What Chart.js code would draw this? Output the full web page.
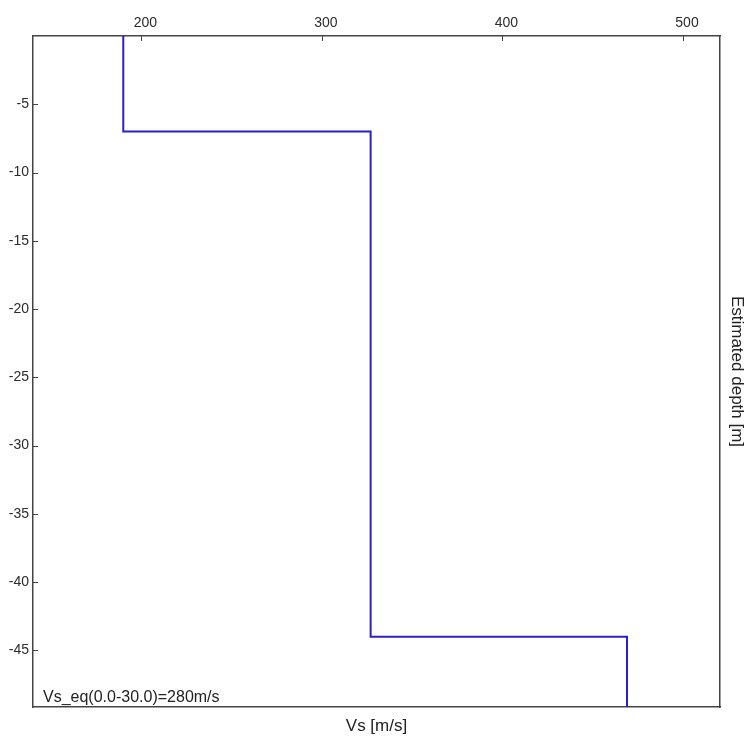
<!DOCTYPE html>
<html>
<head>
<meta charset="utf-8">
<script src="https://cdn.jsdelivr.net/npm/chart.js@4/dist/chart.umd.min.js"></script>
<style>
  html, body { margin: 0; padding: 0; background: #fff; }
</style>
</head>
<body>
<canvas id="profile" width="745" height="738"></canvas>
<script>
// layer tops (m below surface) and shear-wave velocity of each layer
const layerTops = [0, 7, 44];
const layerVs = [190, 327, 469];
const maxDepth = 49.15;

const vsTicks = [200, 300, 400, 500];
const depthTicks = [-5, -10, -15, -20, -25, -30, -35, -40, -45];
const vsEqLabel = 'Vs_eq(0.0-30.0)=280m/s';

// build the stepped profile: each layer is a vertical segment
const profile = [];
layerVs.forEach((vs, i) => {
    const bottom = i < layerTops.length - 1 ? layerTops[i + 1] : maxDepth;
    profile.push({ x: vs, y: -layerTops[i] });
    profile.push({ x: vs, y: -bottom });
});

const axisColor = '#444';
const textColor = '#2b2b2b';
const family = 'Liberation Sans, Arial, sans-serif';
const tickFont = { family: family, size: 14 };
const titleFont = { family: family, size: 17, lineHeight: 1 };

// small tick marks pointing into the plot, plus the Vs_eq note
const insideTicks = {
    id: 'insideTicks',
    afterDraw(chart) {
        const ctx = chart.ctx;
        const area = chart.chartArea;
        const x = chart.scales.x;
        const y = chart.scales.y;
        ctx.save();
        ctx.strokeStyle = axisColor;
        ctx.lineWidth = 1;
        ctx.beginPath();
        vsTicks.forEach(v => {
            const px = Math.round(x.getPixelForValue(v)) + 0.5;
            ctx.moveTo(px, area.top);
            ctx.lineTo(px, area.top + 5);
        });
        depthTicks.forEach(d => {
            const py = Math.round(y.getPixelForValue(d)) + 0.5;
            ctx.moveTo(area.left, py);
            ctx.lineTo(area.left + 5, py);
        });
        ctx.stroke();
        ctx.fillStyle = '#222';
        ctx.font = '16px ' + family;
        ctx.textBaseline = 'alphabetic';
        ctx.fillText(vsEqLabel, area.left + 10, area.bottom - 5);
        ctx.restore();
    }
};

new Chart(document.getElementById('profile').getContext('2d'), {
    type: 'scatter',
    data: {
        datasets: [{
            data: profile,
            showLine: true,
            borderColor: '#2a1fc8',
            borderWidth: 2,
            pointRadius: 0,
            fill: false
        }]
    },
    options: {
        responsive: false,
        animation: false,
        layout: { padding: 0 },
        plugins: { legend: { display: false }, tooltip: { enabled: false } },
        scales: {
            x: {
                position: 'top',
                min: 140,
                max: 520.5,
                afterBuildTicks: s => { s.ticks = vsTicks.map(v => ({ value: v })); },
                afterFit: s => { s.height = 36; },
                grid: { display: false, drawTicks: false },
                border: { color: axisColor, width: 1.5 },
                ticks: { color: textColor, font: tickFont, padding: 4, labelOffset: 4 }
            },
            x2: {
                position: 'bottom',
                min: 140,
                max: 520.5,
                afterFit: s => { s.height = 31; },
                grid: { display: false, drawTicks: false },
                border: { color: axisColor, width: 1.5 },
                ticks: { display: false },
                title: { display: true, text: 'Vs [m/s]', color: '#222', font: titleFont, padding: { top: 0, bottom: 3 } }
            },
            y: {
                position: 'left',
                min: -maxDepth,
                max: 0,
                afterBuildTicks: s => { s.ticks = depthTicks.map(v => ({ value: v })); },
                afterFit: s => { s.width = 33; },
                grid: { display: false, drawTicks: false },
                border: { color: axisColor, width: 1.5 },
                ticks: { color: textColor, font: tickFont, padding: 4 }
            },
            y2: {
                position: 'right',
                min: -maxDepth,
                max: 0,
                afterFit: s => { s.width = 25; },
                grid: { display: false, drawTicks: false },
                border: { color: axisColor, width: 1.5 },
                ticks: { display: false },
                title: { display: true, text: 'Estimated depth [m]', color: '#222', font: titleFont, padding: 0 }
            }
        }
    },
    plugins: [insideTicks]
});
</script>
</body>
</html>
